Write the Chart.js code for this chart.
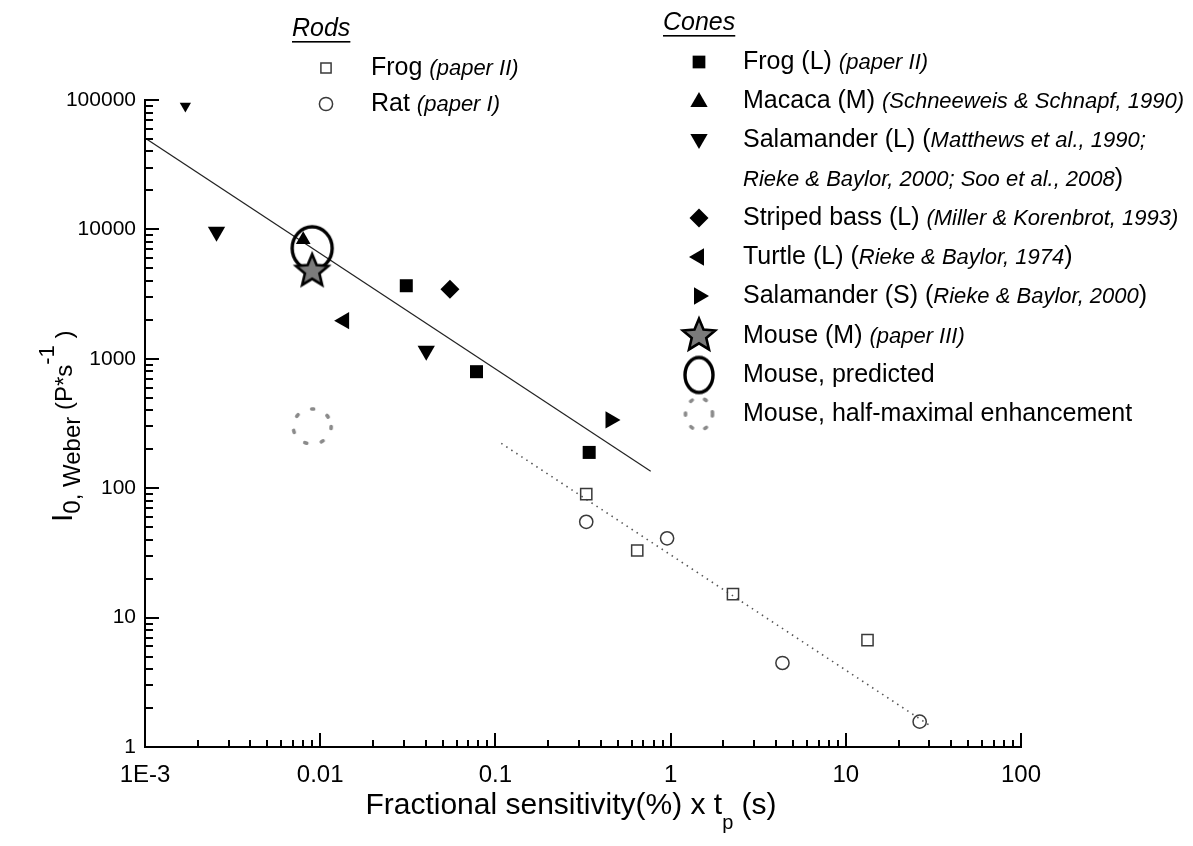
<!DOCTYPE html>
<html>
<head>
<meta charset="utf-8">
<title>Weber intensity vs fractional sensitivity</title>
<script src="https://cdn.jsdelivr.net/npm/chart.js@4.4.1/dist/chart.umd.min.js"></script>
<style>
  html, body { margin: 0; padding: 0; background: #fff; }
  canvas { display: block; }
</style>
</head>
<body>
<canvas id="chart" width="1193" height="846" style="width:1193px;height:846px"></canvas>
<script>
// axis ticks
const xTickValues = [0.001, 0.01, 0.1, 1, 10, 100];
const xTickLabels = ['1E-3', '0.01', '0.1', '1', '10', '100'];
const yTickValues = [1, 10, 100, 1000, 10000, 100000];
const yTickLabels = ['1', '10', '100', '1000', '10000', '100000'];

// rods
const rodFrogX = [0.33, 0.645, 2.27, 13.3];
const rodFrogY = [90, 33, 15.2, 6.7];
const ratX = [0.33, 0.955, 4.35, 26.4];
const ratY = [55, 41, 4.46, 1.57];

// cones
const coneFrogX = [0.031, 0.078, 0.343];
const coneFrogY = [3670, 795, 189];
const macacaX = [0.008];
const macacaY = [8300];
const salamanderLX = [0.0017, 0.00256, 0.0403];
const salamanderLY = [89900, 9600, 1155];
const bassX = [0.055];
const bassY = [3440];
const turtleX = [0.0137];
const turtleY = [1970];
const salamanderSX = [0.454];
const salamanderSY = [337];
const mouseX = [0.009];
const mouseY = [4900];
const predictedX = [0.009];
const predictedY = [7150];
const halfMaxX = [0.009];
const halfMaxY = [300];

// fitted lines
const coneFitX = [0.001, 0.77];
const coneFitY = [50800, 135];
const rodFitX = [0.108, 30.8];
const rodFitY = [222, 1.44];

const SANS = '"Liberation Sans", Arial, sans-serif';

function pts(xs, ys) {
  return xs.map((x, i) => ({ x: x, y: ys[i] }));
}

// gray five-point star with black outline
function makeStar(R) {
  const c = document.createElement('canvas');
  const s = Math.ceil(R * 2 + 6);
  c.width = s; c.height = s;
  const g = c.getContext('2d');
  const cx = s / 2, cy = s / 2 + R * 0.1, r = R * 0.45;
  g.beginPath();
  for (let i = 0; i < 10; i++) {
    const a = -Math.PI / 2 + i * Math.PI / 5;
    const rr = i % 2 ? r : R;
    g.lineTo(cx + Math.cos(a) * rr, cy + Math.sin(a) * rr);
  }
  g.closePath();
  g.fillStyle = '#7b7b7b';
  g.fill();
  g.lineWidth = 2.6;
  g.strokeStyle = '#000';
  g.stroke();
  return c;
}

function makeEllipse(rx, ry, width, color, dash) {
  const c = document.createElement('canvas');
  c.width = Math.ceil(rx * 2 + width + 4);
  c.height = Math.ceil(ry * 2 + width + 4);
  const g = c.getContext('2d');
  g.beginPath();
  g.ellipse(c.width / 2, c.height / 2, rx, ry, 0, 0, Math.PI * 2);
  g.lineWidth = width;
  g.strokeStyle = color;
  if (dash) { g.setLineDash(dash); g.lineCap = 'round'; }
  g.stroke();
  return c;
}

const starImg = makeStar(17);
const predictedImg = makeEllipse(20, 21.5, 3.4, '#000');
const halfMaxImg = makeEllipse(19, 17.5, 3.6, '#8a8a8a', [2, 15]);

const solid = (style, r, rot) => ({
  pointStyle: style, pointRadius: r, pointRotation: rot || 0,
  backgroundColor: '#000', borderColor: '#000', borderWidth: 0
});
const open = (style, r) => ({
  pointStyle: style, pointRadius: r,
  backgroundColor: 'rgba(0,0,0,0)', borderColor: '#3a3a3a', borderWidth: 1.5
});

const datasets = [
  Object.assign({ label: 'Mouse (M)', data: pts(mouseX, mouseY), order: 0 }, { pointStyle: starImg, pointRadius: 17 }),
  Object.assign({ label: 'Macaca (M)', data: pts(macacaX, macacaY), order: 1 }, solid('triangle', 8.5)),
  Object.assign({ label: 'Mouse, predicted', data: pts(predictedX, predictedY), order: 2 }, { pointStyle: predictedImg, pointRadius: 21 }),
  Object.assign({ label: 'Mouse, half-maximal enhancement', data: pts(halfMaxX, halfMaxY), order: 3 }, { pointStyle: halfMaxImg, pointRadius: 20 }),
  Object.assign({ label: 'Frog (L)', data: pts(coneFrogX, coneFrogY), order: 4 }, solid('rect', 9.2)),
  Object.assign({ label: 'Salamander (L)', data: pts(salamanderLX, salamanderLY), order: 5 }, solid('triangle', [6.5, 10, 10], 180)),
  Object.assign({ label: 'Striped bass (L)', data: pts(bassX, bassY), order: 6 }, solid('rectRot', 9.5)),
  Object.assign({ label: 'Turtle (L)', data: pts(turtleX, turtleY), order: 7 }, solid('triangle', 10, 270)),
  Object.assign({ label: 'Salamander (S)', data: pts(salamanderSX, salamanderSY), order: 8 }, solid('triangle', 10, 90)),
  Object.assign({ label: 'Frog', data: pts(rodFrogX, rodFrogY), order: 9 }, open('rect', 7.9)),
  Object.assign({ label: 'Rat', data: pts(ratX, ratY), order: 10 }, open('circle', 6.6)),
  { label: 'cone fit', data: pts(coneFitX, coneFitY), showLine: true, pointRadius: 0,
    borderColor: '#222', borderWidth: 1.2, order: 11 },
  { label: 'rod fit', data: pts(rodFitX, rodFitY), showLine: true, pointRadius: 0,
    borderColor: '#555', borderWidth: 1.6, borderDash: [1.5, 4.5], order: 12 }
];

// inward tick marks, axis titles and the two-column legend
const decorations = {
  id: 'decorations',
  afterDraw(chart) {
    const ctx = chart.ctx, a = chart.chartArea;
    const xs = chart.scales.x, ys = chart.scales.y;
    ctx.save();
    ctx.strokeStyle = '#000';
    ctx.lineWidth = 2;
    const tick = (x1, y1, x2, y2) => { ctx.beginPath(); ctx.moveTo(x1, y1); ctx.lineTo(x2, y2); ctx.stroke(); };
    xTickValues.forEach((v, i) => {
      const px = Math.round(xs.getPixelForValue(v));
      tick(px, a.bottom, px, a.bottom - 14);
      if (i < xTickValues.length - 1) {
        for (let m = 2; m <= 9; m++) {
          const mx = Math.round(xs.getPixelForValue(v * m));
          tick(mx, a.bottom, mx, a.bottom - 7);
        }
      }
    });
    yTickValues.forEach((v, i) => {
      const py = Math.round(ys.getPixelForValue(v));
      tick(a.left, py, a.left + 14, py);
      if (i < yTickValues.length - 1) {
        for (let m = 2; m <= 9; m++) {
          const my = Math.round(ys.getPixelForValue(v * m));
          tick(a.left, my, a.left + 8, my);
        }
      }
    });

    // x title with subscript
    ctx.fillStyle = '#000';
    ctx.textBaseline = 'alphabetic';
    const xParts = [
      ['Fractional sensitivity(%) x t', '30px ' + SANS, 0],
      ['p', '20px ' + SANS, 15],
      [' (s)', '30px ' + SANS, 0]
    ];
    let total = 0;
    xParts.forEach(p => { ctx.font = p[1]; total += ctx.measureText(p[0]).width; });
    let cx = 571 - total / 2;
    xParts.forEach(p => { ctx.font = p[1]; ctx.fillText(p[0], cx, 814 + p[2]); cx += ctx.measureText(p[0]).width; });

    // y title, rotated, with sub- and superscript
    ctx.save();
    ctx.translate(72, 522);
    ctx.rotate(-Math.PI / 2);
    const yParts = [
      ['I', '30px ' + SANS, 0],
      ['0, Weber', '24px ' + SANS, 8],
      [' (P*s', '24px ' + SANS, 0],
      ['-1', '22px ' + SANS, -18],
      [' )', '24px ' + SANS, 0]
    ];
    let ty = 0;
    yParts.forEach(p => { ctx.font = p[1]; ctx.fillText(p[0], ty, p[2]); ty += ctx.measureText(p[0]).width; });
    ctx.restore();

    // legend
    const reg = '25px ' + SANS, ital = 'italic 22px ' + SANS;
    const segs = (x, y, list) => {
      ctx.textBaseline = 'middle';
      list.forEach(s => {
        ctx.font = s[1] ? ital : reg;
        ctx.fillText(s[0], x, y + (s[1] ? 1 : 0));
        x += ctx.measureText(s[0]).width;
      });
    };
    const header = (text, x, y) => {
      ctx.font = 'italic 25px ' + SANS;
      ctx.textBaseline = 'middle';
      ctx.fillText(text, x, y);
      const w = ctx.measureText(text).width;
      ctx.fillRect(x, y + 12, w, 1.6);
    };
    const mark = (ds, x, y, r) => {
      ctx.fillStyle = ds.backgroundColor || '#000';
      ctx.strokeStyle = ds.borderColor || '#000';
      ctx.lineWidth = ds.borderWidth || 0;
      Chart.helpers.drawPoint(ctx, {
        pointStyle: ds.pointStyle, radius: r, rotation: ds.pointRotation || 0, borderWidth: ds.borderWidth || 0
      }, x, y);
      ctx.fillStyle = '#000';
    };

    header('Rods', 292, 29);
    mark(datasets[9], 326, 68, 7.2);
    segs(371, 68, [['Frog ', 0], ['(paper II)', 1]]);
    mark(datasets[10], 326, 104, 6.6);
    segs(371, 104, [['Rat ', 0], ['(paper I)', 1]]);

    header('Cones', 663, 23);
    const mx = 699, tx = 743;
    mark(datasets[4], mx, 62, 9);
    segs(tx, 62, [['Frog (L) ', 0], ['(paper II)', 1]]);
    mark(datasets[1], mx, 102, 10);
    segs(tx, 101, [['Macaca (M) ', 0], ['(Schneeweis & Schnapf, 1990)', 1]]);
    mark(datasets[5], mx, 139, 10);
    segs(tx, 140, [['Salamander (L) (', 0], ['Matthews et al., 1990;', 1]]);
    segs(tx, 179, [['Rieke & Baylor, 2000; Soo et al., 2008', 1], [')', 0]]);
    mark(datasets[6], mx, 218, 9.5);
    segs(tx, 218, [['Striped bass (L) ', 0], ['(Miller & Korenbrot, 1993)', 1]]);
    mark(datasets[7], mx, 257, 10);
    segs(tx, 257, [['Turtle (L) (', 0], ['Rieke & Baylor, 1974', 1], [')', 0]]);
    mark(datasets[8], mx, 296, 10);
    segs(tx, 296, [['Salamander (S) (', 0], ['Rieke & Baylor, 2000', 1], [')', 0]]);
    ctx.drawImage(starImg, mx - starImg.width / 2, 334 - starImg.height / 2);
    segs(tx, 336, [['Mouse (M) ', 0], ['(paper III)', 1]]);
    const legPred = makeEllipse(14, 17.5, 3.4, '#000');
    ctx.drawImage(legPred, mx - legPred.width / 2, 375 - legPred.height / 2);
    segs(tx, 375, [['Mouse, predicted', 0]]);
    const legHalf = makeEllipse(13.5, 16, 3.6, '#8a8a8a', [2, 13]);
    ctx.drawImage(legHalf, mx - legHalf.width / 2, 414 - legHalf.height / 2);
    segs(tx, 414, [['Mouse, half-maximal enhancement', 0]]);
    ctx.restore();
  }
};

new Chart(document.getElementById('chart'), {
  type: 'scatter',
  data: { datasets: datasets },
  options: {
    responsive: false,
    animation: false,
    layout: { padding: { left: 0, top: 100, right: 172, bottom: 0 } },
    plugins: { legend: { display: false }, tooltip: { enabled: false } },
    scales: {
      x: {
        type: 'logarithmic',
        min: 0.001,
        max: 100,
        afterFit: s => { s.height = 99; },
        afterBuildTicks: s => { s.ticks = xTickValues.map(v => ({ value: v })); },
        grid: { display: false, drawTicks: false },
        border: { display: true, color: '#000', width: 2 },
        ticks: {
          autoSkip: false, maxRotation: 0, padding: 14, color: '#000',
          font: { family: SANS, size: 24 },
          callback: (v, i) => xTickLabels[i]
        }
      },
      y: {
        type: 'logarithmic',
        min: 1,
        max: 100000,
        afterFit: s => { s.width = 145; },
        afterBuildTicks: s => { s.ticks = yTickValues.map(v => ({ value: v })); },
        grid: { display: false, drawTicks: false },
        border: { display: true, color: '#000', width: 2 },
        ticks: {
          autoSkip: false, padding: 9, color: '#000',
          font: { family: SANS, size: 21 },
          callback: (v, i) => yTickLabels[i]
        }
      }
    }
  },
  plugins: [decorations]
});
</script>
</body>
</html>
